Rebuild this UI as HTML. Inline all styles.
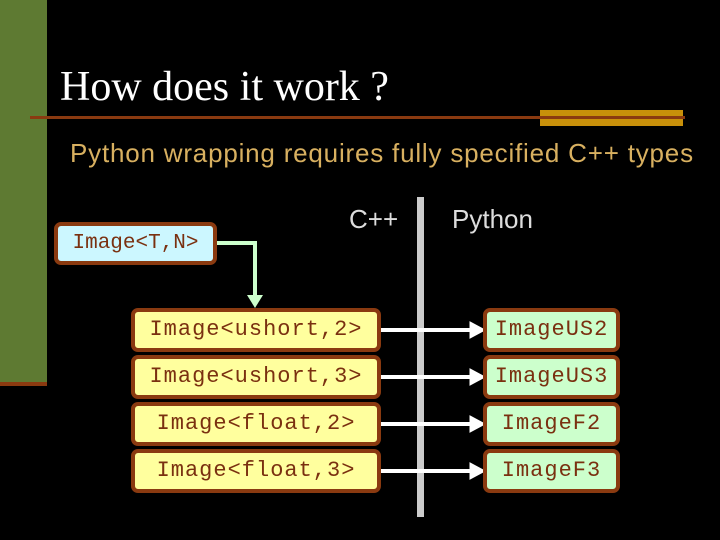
<!DOCTYPE html>
<html><head><style>
body{margin:0;width:720px;height:540px;background:#000;position:relative;overflow:hidden;font-family:"Liberation Sans",sans-serif}
.a{position:absolute}
.box{position:absolute;box-sizing:border-box;border:4px solid #8a3a10;border-radius:7px;font-family:"Liberation Mono",monospace;font-size:22px;letter-spacing:1px;color:#7a3010;text-align:center;white-space:nowrap}
.y{background:#ffff9e;left:131px;width:250px;height:44px;line-height:36px}
.g{background:#ccffcc;left:483px;width:137px;height:44px;line-height:36px}
</style></head><body>
<div class="a" style="left:0;top:0;width:47px;height:383px;background:#5e7a32"></div>
<div class="a" style="left:0;top:382px;width:47px;height:4px;background:#8a3a10"></div>
<div class="a" style="left:60px;top:63px;font-family:'Liberation Serif',serif;font-size:42px;color:#fff;white-space:nowrap">How does it work ?</div>
<div class="a" style="left:540px;top:110px;width:143px;height:16px;background:#c8900a"></div>
<div class="a" style="left:30px;top:116px;width:655px;height:3px;background:#8a3a10"></div>
<div class="a" style="left:70px;top:138px;font-size:26px;letter-spacing:0.8px;color:#d8b060;white-space:nowrap">Python wrapping requires fully specified C++ types</div>
<div class="a" style="left:349px;top:204px;font-size:26px;color:#ddd">C++</div>
<div class="a" style="left:452px;top:204px;font-size:26px;color:#ddd">Python</div>
<div class="a" style="left:417px;top:197px;width:7px;height:320px;background:#ccc"></div>
<svg class="a" style="left:0;top:0" width="720" height="540">
<polyline points="216,243 255,243 255,298" fill="none" stroke="#ccffcc" stroke-width="4"/>
<polygon points="247,295 263,295 255,308" fill="#ccffcc"/>
<g fill="#fff" stroke="#fff">
<line x1="380" y1="330" x2="472" y2="330" stroke-width="4"/><polygon points="470,322 485,330 470,338"/>
<line x1="380" y1="377" x2="472" y2="377" stroke-width="4"/><polygon points="470,369 485,377 470,385"/>
<line x1="380" y1="424" x2="472" y2="424" stroke-width="4"/><polygon points="470,416 485,424 470,432"/>
<line x1="380" y1="471" x2="472" y2="471" stroke-width="4"/><polygon points="470,463 485,471 470,479"/>
</g></svg>
<div class="box" style="left:54px;top:222px;width:163px;height:43px;line-height:35px;background:#ccf7ff;font-size:21px;letter-spacing:0">Image&lt;T,N&gt;</div>
<div class="box y" style="top:308px">Image&lt;ushort,2&gt;</div>
<div class="box y" style="top:355px">Image&lt;ushort,3&gt;</div>
<div class="box y" style="top:402px">Image&lt;float,2&gt;</div>
<div class="box y" style="top:449px">Image&lt;float,3&gt;</div>
<div class="box g" style="top:308px">ImageUS2</div>
<div class="box g" style="top:355px">ImageUS3</div>
<div class="box g" style="top:402px">ImageF2</div>
<div class="box g" style="top:449px">ImageF3</div>
</body></html>
